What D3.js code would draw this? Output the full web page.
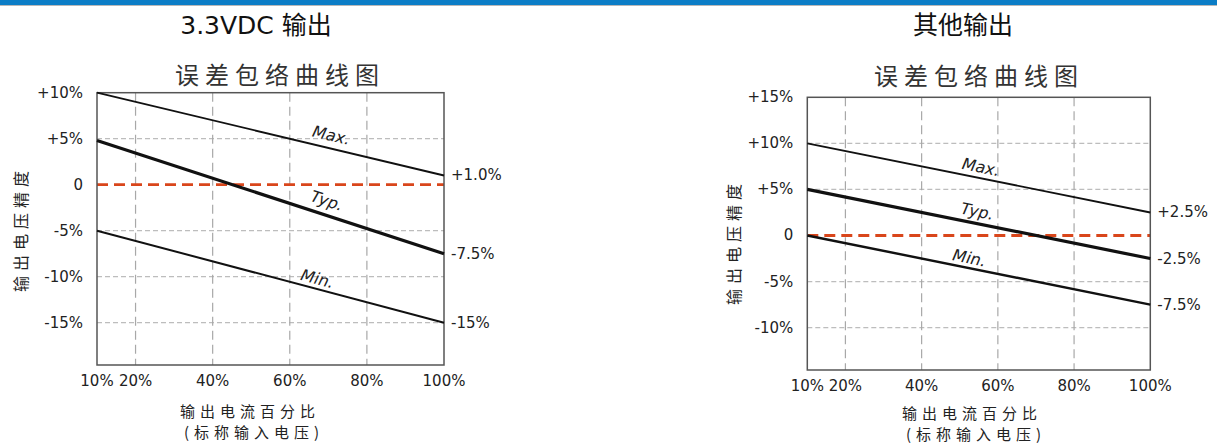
<!DOCTYPE html>
<html>
<head>
<meta charset="utf-8">
<script src="https://cdn.jsdelivr.net/npm/d3@7"></script>
<style>
  body { margin: 0; background: #fff; }
  text { font-family: "DejaVu Sans", "Noto Sans CJK SC", sans-serif; fill: #222; }
  .cjk { font-family: "Noto Sans CJK SC", sans-serif; }
</style>
</head>
<body>
<script>
// load points (percent of rated output current)
var loadPct = [10, 100];
var xTicks = [10, 20, 40, 60, 80, 100];
var xTickLabels = ["10%", "20%", "40%", "60%", "80%", "100%"];

// 3.3VDC output
var leftMax = [10, 1.0];
var leftTyp = [4.8, -7.5];
var leftMin = [-5, -15];
var leftYTicks = [10, 5, 0, -5, -10, -15];
var leftYTickLabels = ["+10%", "+5%", "0", "-5%", "-10%", "-15%"];
var leftEndLabels = ["+1.0%", "-7.5%", "-15%"];

// other outputs
var rightMax = [10, 2.5];
var rightTyp = [5, -2.5];
var rightMin = [0, -7.5];
var rightYTicks = [15, 10, 5, 0, -5, -10];
var rightYTickLabels = ["+15%", "+10%", "+5%", "0", "-5%", "-10%"];
var rightEndLabels = ["+2.5%", "-2.5%", "-7.5%"];

var seriesNames = ["Max.", "Typ.", "Min."];

var vis = d3.select("body").append("svg")
    .attr("width", 1217)
    .attr("height", 443);

// top band
vis.append("rect").attr("x", 0).attr("y", 0).attr("width", 1217).attr("height", 5).attr("fill", "#0b7dc6");
vis.append("line").attr("x1", 0).attr("x2", 1217).attr("y1", 5.5).attr("y2", 5.5)
    .attr("stroke", "#b8b8b8").attr("stroke-width", 1);

function panel(o) {
  var x = d3.scaleLinear().domain([10, 100]).range([o.left, o.right]);
  var y = d3.scaleLinear().domain(o.yDomain).range([o.bottom, o.top]);
  var g = vis.append("g");

  // horizontal grid
  g.selectAll("line.hgrid")
      .data(o.yTicks.filter(function(d) { return d !== 0 && d !== o.yDomain[1]; }))
    .enter().append("line")
      .attr("x1", o.left).attr("x2", o.right)
      .attr("y1", function(d) { return y(d); })
      .attr("y2", function(d) { return y(d); })
      .attr("stroke", "#bdbdbd").attr("stroke-width", 1.2)
      .attr("stroke-dasharray", "5,3");

  // vertical grid
  g.selectAll("line.vgrid")
      .data(xTicks.slice(1, -1))
    .enter().append("line")
      .attr("x1", function(d) { return x(d); })
      .attr("x2", function(d) { return x(d); })
      .attr("y1", o.top).attr("y2", o.bottom)
      .attr("stroke", "#a8a8a8").attr("stroke-width", 1.2)
      .attr("stroke-dasharray", "9,5");

  // zero line
  g.append("line")
      .attr("x1", o.left).attr("x2", o.right)
      .attr("y1", y(0)).attr("y2", y(0))
      .attr("stroke", "#d9461b").attr("stroke-width", 2.8)
      .attr("stroke-dasharray", "11,6");

  // frame
  g.append("rect")
      .attr("x", o.left).attr("y", o.top)
      .attr("width", o.right - o.left).attr("height", o.bottom - o.top)
      .attr("fill", "none").attr("stroke", "#555").attr("stroke-width", 1.5);

  // series
  var series = [o.max, o.typ, o.min];
  var widths = [1.9, 3.2, o.minWidth];
  var line = d3.line()
      .x(function(d, i) { return x(loadPct[i]); })
      .y(function(d) { return y(d); });

  g.selectAll("path.series")
      .data(series)
    .enter().append("path")
      .attr("d", line)
      .attr("fill", "none")
      .attr("stroke", "#111")
      .attr("stroke-width", function(d, i) { return widths[i]; });

  // series labels along the lines
  series.forEach(function(s, i) {
    var at = o.labelAt[i];
    var v = s[0] + (s[1] - s[0]) * (at - loadPct[0]) / (loadPct[1] - loadPct[0]);
    var ang = Math.atan2(y(s[1]) - y(s[0]), x(loadPct[1]) - x(loadPct[0])) * 180 / Math.PI;
    g.append("text")
        .attr("transform", "translate(" + x(at) + "," + y(v) + ") rotate(" + ang + ")")
        .attr("y", -o.labelOff[i])
        .attr("text-anchor", "middle")
        .attr("dominant-baseline", "central")
        .style("font-style", "italic")
        .style("font-size", "16px")
        .text(seriesNames[i]);
  });

  // end labels on the right
  g.selectAll("text.end")
      .data(series)
    .enter().append("text")
      .attr("x", o.right + 7)
      .attr("y", function(d) { return y(d[1]); })
      .attr("dominant-baseline", "central")
      .style("font-size", "15px")
      .text(function(d, i) { return o.endLabels[i]; });

  // y tick labels
  g.selectAll("text.ytick")
      .data(o.yTicks)
    .enter().append("text")
      .attr("x", o.left - 14)
      .attr("y", function(d) { return y(d); })
      .attr("text-anchor", "end")
      .attr("dominant-baseline", "central")
      .style("font-size", "15px")
      .text(function(d, i) { return o.yTickLabels[i]; });

  // x tick labels
  g.selectAll("text.xtick")
      .data(xTicks)
    .enter().append("text")
      .attr("x", function(d) { return x(d); })
      .attr("y", o.bottom + 16)
      .attr("text-anchor", "middle")
      .attr("dominant-baseline", "central")
      .style("font-size", "15px")
      .text(function(d, i) { return xTickLabels[i]; });

  // titles
  g.append("text")
      .attr("x", o.titleX).attr("y", 25)
      .attr("text-anchor", "middle")
      .attr("dominant-baseline", "central")
      .style("font-size", "25px")
      .style("fill", "#111")
      .text(o.title);

  g.append("text").attr("class", "cjk")
      .attr("x", o.subX + 3).attr("y", o.subY)
      .attr("text-anchor", "middle")
      .attr("dominant-baseline", "central")
      .style("font-size", "24px")
      .style("letter-spacing", "6px")
      .style("fill", "#333")
      .text("误差包络曲线图");

  // axis titles
  g.append("text").attr("class", "cjk")
      .attr("transform", "translate(" + o.yTitleX + "," + o.yTitleY + ") rotate(-90)")
      .attr("x", 2)
      .attr("text-anchor", "middle")
      .attr("dominant-baseline", "central")
      .style("font-size", "16px")
      .style("letter-spacing", "5px")
      .text("输出电压精度");

  g.append("text").attr("class", "cjk")
      .attr("x", o.xTitleX + 2).attr("y", o.xTitleY)
      .attr("text-anchor", "middle")
      .attr("dominant-baseline", "central")
      .style("font-size", "15px")
      .style("letter-spacing", "5px")
      .text("输出电流百分比");

  g.append("text").attr("class", "cjk")
      .attr("x", o.xTitleX + 6).attr("y", o.xTitleY + 21)
      .attr("text-anchor", "middle")
      .attr("dominant-baseline", "central")
      .style("font-size", "15px")
      .style("letter-spacing", "5px")
      .text("(标称输入电压)");
}

panel({
  left: 97, right: 444, top: 92.7, bottom: 365,
  yDomain: [-19.6, 10],
  yTicks: leftYTicks, yTickLabels: leftYTickLabels,
  max: leftMax, typ: leftTyp, min: leftMin, minWidth: 2,
  endLabels: leftEndLabels,
  labelAt: [70, 68.5, 66.5], labelOff: [13, 14, 10],
  title: "3.3VDC 输出", titleX: 256,
  subX: 277, subY: 73,
  yTitleX: 20, yTitleY: 231,
  xTitleX: 248, xTitleY: 410
});

panel({
  left: 807.3, right: 1150.3, top: 97.3, bottom: 370,
  yDomain: [-14.6, 15],
  yTicks: rightYTicks, yTickLabels: rightYTickLabels,
  max: rightMax, typ: rightTyp, min: rightMin, minWidth: 2.4,
  endLabels: rightEndLabels,
  labelAt: [55, 54, 52], labelOff: [11, 12, 10],
  title: "其他输出", titleX: 963,
  subX: 976, subY: 74,
  yTitleX: 733, yTitleY: 244,
  xTitleX: 970, xTitleY: 412
});
</script>
</body>
</html>
